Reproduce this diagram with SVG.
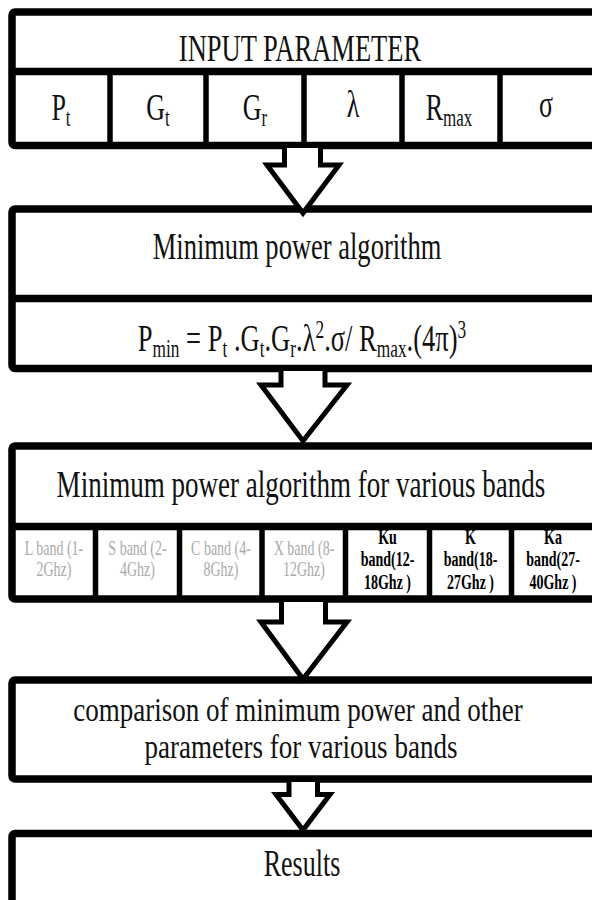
<svg xmlns="http://www.w3.org/2000/svg" width="592" height="900" viewBox="0 0 592 900">
<style>
.box{fill:#fff;stroke:#000;stroke-width:7.5}
.div{stroke:#000;stroke-width:7.5}
.sep{stroke:#000;stroke-width:5.5}
.arrow{fill:#fff;stroke:#000;stroke-width:5;stroke-linejoin:miter}
.t{font-family:"Liberation Serif","Times New Roman",serif;font-size:26px;fill:#111;text-anchor:middle}
.sub{font-size:17px}
.g{font-family:"Liberation Serif","Times New Roman",serif;font-size:14px;fill:#aaa;text-anchor:middle}
.b{font-family:"Liberation Serif","Times New Roman",serif;font-size:14px;font-weight:bold;fill:#000;text-anchor:middle}
</style>
<rect width="592" height="900" fill="#fff"/>

<g id="input-parameter">
<rect class="box" x="12" y="12" width="600" height="133.5" rx="3"/>
<line class="div" x1="12" y1="71.5" x2="612" y2="71.5"/>
<line class="sep" x1="110" y1="71.5" x2="110" y2="145.5"/>
<line class="sep" x1="206" y1="71.5" x2="206" y2="145.5"/>
<line class="sep" x1="304" y1="71.5" x2="304" y2="145.5"/>
<line class="sep" x1="402" y1="71.5" x2="402" y2="145.5"/>
<line class="sep" x1="500" y1="71.5" x2="500" y2="145.5"/>
<text class="t" transform="translate(300,61) scale(1.02,1.45)">INPUT PARAMETER</text>
<text class="t" transform="translate(61,120) scale(1,1.45)">P<tspan class="sub" dy="4">t</tspan></text>
<text class="t" transform="translate(158,120) scale(1,1.45)">G<tspan class="sub" dy="4">t</tspan></text>
<text class="t" transform="translate(255,120) scale(1,1.45)">G<tspan class="sub" dy="4">r</tspan></text>
<text class="t" transform="translate(353,117) scale(1,1.45)">λ</text>
<text class="t" transform="translate(449,120) scale(1,1.45)">R<tspan class="sub" dy="4">max</tspan></text>
<text class="t" transform="translate(546,117) scale(1,1.45)">σ</text>
</g>

<g id="minimum-power-algorithm">
<rect class="box" x="12" y="209" width="600" height="159.5" rx="3"/>
<line class="div" x1="12" y1="298.5" x2="612" y2="298.5"/>
<text class="t" transform="translate(297,259) scale(1.02,1.45)">Minimum power algorithm</text>
<text class="t" transform="translate(302,351) scale(1.02,1.45)">P<tspan class="sub" dy="4">min</tspan><tspan dy="-4"> = P</tspan><tspan class="sub" dy="4">t</tspan><tspan dy="-4"> .G</tspan><tspan class="sub" dy="4">t</tspan><tspan dy="-4">.G</tspan><tspan class="sub" dy="4">r</tspan><tspan dy="-4">.λ</tspan><tspan class="sub" dy="-9">2</tspan><tspan dy="9">.σ/ R</tspan><tspan class="sub" dy="4">max</tspan><tspan dy="-4">.(4π)</tspan><tspan class="sub" dy="-9">3</tspan></text>
</g>

<g id="various-bands">
<rect class="box" x="12" y="446" width="600" height="153" rx="3"/>
<line class="div" x1="12" y1="526.5" x2="612" y2="526.5"/>
<line class="sep" x1="95.5" y1="526.5" x2="95.5" y2="599"/>
<line class="sep" x1="179.5" y1="526.5" x2="179.5" y2="599"/>
<line class="sep" x1="262" y1="526.5" x2="262" y2="599"/>
<line class="sep" x1="345.5" y1="526.5" x2="345.5" y2="599"/>
<line class="sep" x1="429.5" y1="526.5" x2="429.5" y2="599"/>
<line class="sep" x1="511.5" y1="526.5" x2="511.5" y2="599"/>
<text class="t" transform="translate(301,497) scale(1.04,1.45)">Minimum power algorithm  for various bands</text>
<text class="g" transform="translate(54,555) scale(1,1.45)">L band (1-</text>
<text class="g" transform="translate(54,576) scale(1,1.45)">2Ghz)</text>
<text class="g" transform="translate(137.5,555) scale(1,1.45)">S band (2-</text>
<text class="g" transform="translate(137.5,576) scale(1,1.45)">4Ghz)</text>
<text class="g" transform="translate(221,555) scale(1,1.45)">C band (4-</text>
<text class="g" transform="translate(221,576) scale(1,1.45)">8Ghz)</text>
<text class="g" transform="translate(304,555) scale(1,1.45)">X band (8-</text>
<text class="g" transform="translate(304,576) scale(1,1.45)">12Ghz)</text>
<text class="b" transform="translate(387.5,544) scale(1,1.45)">Ku</text>
<text class="b" transform="translate(387.5,566) scale(1,1.45)">band(12-</text>
<text class="b" transform="translate(387.5,589) scale(1,1.45)">18Ghz )</text>
<text class="b" transform="translate(470.5,544) scale(1,1.45)">K</text>
<text class="b" transform="translate(470.5,566) scale(1,1.45)">band(18-</text>
<text class="b" transform="translate(470.5,589) scale(1,1.45)">27Ghz )</text>
<text class="b" transform="translate(553,544) scale(1,1.45)">Ka</text>
<text class="b" transform="translate(553,566) scale(1,1.45)">band(27-</text>
<text class="b" transform="translate(553,589) scale(1,1.45)">40Ghz )</text>
</g>

<g id="comparison">
<rect class="box" x="12" y="680" width="600" height="99" rx="3"/>
<text class="t" transform="translate(298,721) scale(1.06,1.3)" style="font-size:25.5px">comparison of minimum power  and other</text>
<text class="t" transform="translate(301,758) scale(1.06,1.3)" style="font-size:25.5px">parameters for various bands</text>
</g>

<g id="results">
<rect class="box" x="12" y="833.5" width="600" height="120" rx="3"/>
<text class="t" transform="translate(302,876) scale(1,1.45)">Results</text>
</g>

<g id="connectors">
<polyline class="arrow" points="284.5,148 284.5,165 267,165 303,213 339,165 320.5,165 320.5,148"/>
<polyline class="arrow" points="281,371 281,385 261,385 303,441 347,385 325,385 325,371"/>
<polyline class="arrow" points="281.5,602 281.5,622 261,622 303,679 347,622 325.5,622 325.5,602"/>
<polyline class="arrow" points="289,782 289,794.5 276,794.5 303,830 330,794.5 317.5,794.5 317.5,782"/>
</g>
</svg>
